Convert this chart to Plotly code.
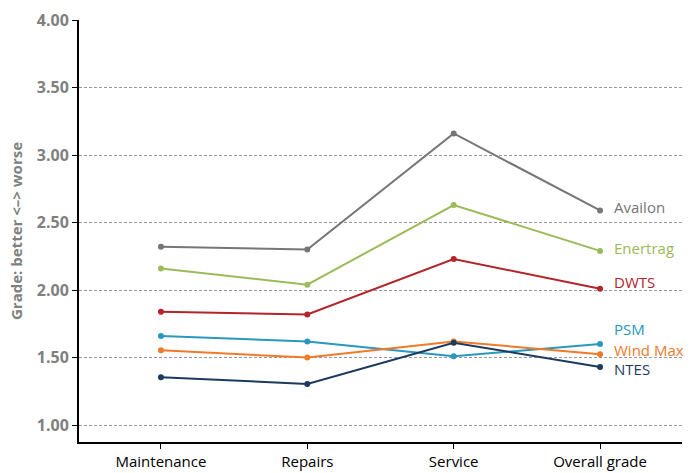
import plotly.graph_objects as go

categories = ["Maintenance", "Repairs", "Service", "Overall grade"]
series_names = ["Availon", "Enertrag", "DWTS", "PSM", "Wind Max", "NTES"]
availon = [2.32, 2.30, 3.16, 2.59]
enertrag = [2.16, 2.04, 2.63, 2.29]
dwts = [1.84, 1.82, 2.23, 2.01]
psm = [1.66, 1.62, 1.51, 1.60]
wind_max = [1.555, 1.50, 1.62, 1.525]
ntes = [1.355, 1.305, 1.61, 1.43]
label_values = [2.615, 2.31, 2.06, 1.71, 1.56, 1.415]
colors = ["#767676", "#9BBB59", "#B3242B", "#2A97BE", "#F07A2A", "#1C3A5E"]
y_ticks = [1.0, 1.5, 2.0, 2.5, 3.0, 3.5, 4.0]

values = [availon, enertrag, dwts, psm, wind_max, ntes]
xs = list(range(len(categories)))

fig = go.Figure()
for name, vals, col in zip(series_names, values, colors):
    fig.add_trace(go.Scatter(x=xs, y=vals, mode="lines+markers", name=name,
                             line=dict(color=col, width=2),
                             marker=dict(color=col, size=6), cliponaxis=False))

for name, lv, col in zip(series_names, label_values, colors):
    fig.add_annotation(x=xs[-1], y=lv, text=name, showarrow=False,
                       xanchor="left", yanchor="middle", xshift=12,
                       font=dict(color=col, size=15, family="Open Sans"))

fig.add_annotation(xref="paper", yref="paper", x=0, y=0.5, xshift=-63,
                   text="<b>Grade: better <–> worse</b>", textangle=-90, showarrow=False,
                   xanchor="center", yanchor="middle",
                   font=dict(color="#808080", size=15, family="Open Sans"))

fig.update_layout(
    width=698, height=473,
    margin=dict(l=79, r=16, t=20, b=31, autoexpand=False),
    plot_bgcolor="white", paper_bgcolor="white",
    showlegend=False,
    font=dict(family="Open Sans"),
)
fig.update_xaxes(range=[-0.56, 3.56], tickvals=xs, ticktext=categories,
                 showline=True, linecolor="black", linewidth=2,
                 ticks="outside", ticklen=5, tickcolor="black",
                 showgrid=False, zeroline=False, automargin=False,
                 tickfont=dict(color="black", size=15, family="Open Sans"))
fig.update_yaxes(range=[0.875, 4.0], tickvals=y_ticks,
                 ticktext=[f"<b>{v:.2f}</b>" for v in y_ticks],
                 showline=True, linecolor="black", linewidth=2,
                 ticks="outside", ticklen=5, tickcolor="black",
                 showgrid=True, gridcolor="#9a9a9a", griddash="3px,2px", gridwidth=1,
                 zeroline=False, automargin=False,
                 tickfont=dict(color="#808080", size=16, family="Open Sans"))

fig.write_html("out.html")
